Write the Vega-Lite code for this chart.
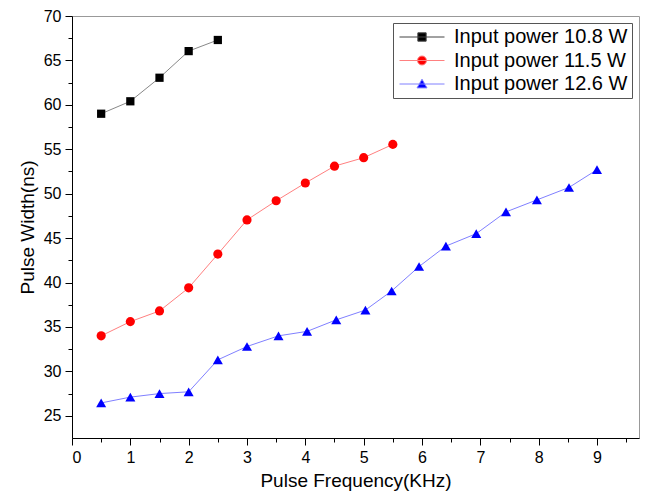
{
  "$schema": "https://vega.github.io/schema/vega-lite/v6.json",
  "width": 567,
  "height": 422,
  "autosize": "none",
  "padding": {"left": 72, "top": 16, "right": 6, "bottom": 56},
  "background": "white",
  "config": {
    "font": "Liberation Sans",
    "view": {"stroke": "#999999", "strokeWidth": 1},
    "axis": {
      "grid": false,
      "domainColor": "black",
      "tickColor": "black",
      "labelColor": "black",
      "titleColor": "black",
      "labelFont": "Liberation Sans",
      "titleFont": "Liberation Sans",
      "labelFontSize": 16,
      "titleFontSize": 19,
      "titleFontWeight": "normal",
      "labelPadding": 4
    },
    "legend": {
      "strokeColor": "#555555",
      "fillColor": "white",
      "padding": 4,
      "labelFont": "Liberation Sans",
      "labelFontSize": 20,
      "labelColor": "black",
      "labelLimit": 400,
      "symbolSize": 100,
      "symbolOffset": 15,
      "labelOffset": 22,
      "rowPadding": 3.5,
      "symbolStrokeWidth": 1,
      "symbolOpacity": 1
    }
  },
  "data": {
    "values": [
      {"series": "Input power 10.8 W", "freq": 0.5, "width": 59.0},
      {"series": "Input power 10.8 W", "freq": 1.0, "width": 60.4},
      {"series": "Input power 10.8 W", "freq": 1.5, "width": 63.05},
      {"series": "Input power 10.8 W", "freq": 2.0, "width": 66.05},
      {"series": "Input power 10.8 W", "freq": 2.5, "width": 67.3},
      {"series": "Input power 11.5 W", "freq": 0.5, "width": 34.0},
      {"series": "Input power 11.5 W", "freq": 1.0, "width": 35.6},
      {"series": "Input power 11.5 W", "freq": 1.5, "width": 36.8},
      {"series": "Input power 11.5 W", "freq": 2.0, "width": 39.4},
      {"series": "Input power 11.5 W", "freq": 2.5, "width": 43.2},
      {"series": "Input power 11.5 W", "freq": 3.0, "width": 47.05},
      {"series": "Input power 11.5 W", "freq": 3.5, "width": 49.2},
      {"series": "Input power 11.5 W", "freq": 4.0, "width": 51.2},
      {"series": "Input power 11.5 W", "freq": 4.5, "width": 53.1},
      {"series": "Input power 11.5 W", "freq": 5.0, "width": 54.05},
      {"series": "Input power 11.5 W", "freq": 5.5, "width": 55.55},
      {"series": "Input power 12.6 W", "freq": 0.5, "width": 26.45},
      {"series": "Input power 12.6 W", "freq": 1.0, "width": 27.1},
      {"series": "Input power 12.6 W", "freq": 1.5, "width": 27.5},
      {"series": "Input power 12.6 W", "freq": 2.0, "width": 27.7},
      {"series": "Input power 12.6 W", "freq": 2.5, "width": 31.3},
      {"series": "Input power 12.6 W", "freq": 3.0, "width": 32.8},
      {"series": "Input power 12.6 W", "freq": 3.54, "width": 34.0},
      {"series": "Input power 12.6 W", "freq": 4.03, "width": 34.5},
      {"series": "Input power 12.6 W", "freq": 4.53, "width": 35.8},
      {"series": "Input power 12.6 W", "freq": 5.03, "width": 36.9},
      {"series": "Input power 12.6 W", "freq": 5.48, "width": 39.05},
      {"series": "Input power 12.6 W", "freq": 5.95, "width": 41.8},
      {"series": "Input power 12.6 W", "freq": 6.41, "width": 44.1},
      {"series": "Input power 12.6 W", "freq": 6.93, "width": 45.5},
      {"series": "Input power 12.6 W", "freq": 7.44, "width": 47.95},
      {"series": "Input power 12.6 W", "freq": 7.97, "width": 49.3},
      {"series": "Input power 12.6 W", "freq": 8.52, "width": 50.7},
      {"series": "Input power 12.6 W", "freq": 9.0, "width": 52.7}
    ]
  },
  "encoding": {
    "x": {
      "field": "freq",
      "type": "quantitative",
      "title": "Pulse Frequency(KHz)",
      "scale": {"domain": [0, 9.72], "nice": false, "zero": false},
      "axis": {
        "values": [0, 0.5, 1, 1.5, 2, 2.5, 3, 3.5, 4, 4.5, 5, 5.5, 6, 6.5, 7, 7.5, 8, 8.5, 9, 9.5],
        "labelExpr": "datum.value % 1 === 0 ? format(datum.value, 'd') : ''",
        "tickSize": {"condition": {"test": "datum.value % 1 !== 0", "value": 4}, "value": 7},
        "titlePadding": 6
      }
    },
    "y": {
      "field": "width",
      "type": "quantitative",
      "title": "Pulse Width(ns)",
      "scale": {"domain": [22.5, 70], "nice": false, "zero": false},
      "axis": {
        "values": [25, 27.5, 30, 32.5, 35, 37.5, 40, 42.5, 45, 47.5, 50, 52.5, 55, 57.5, 60, 62.5, 65, 67.5, 70],
        "labelExpr": "datum.value % 5 === 0 ? format(datum.value, 'd') : ''",
        "tickSize": {"condition": {"test": "datum.value % 5 !== 0", "value": 4}, "value": 7},
        "titlePadding": 6
      }
    }
  },
  "layer": [
    {
      "mark": {"type": "line", "strokeWidth": 1},
      "encoding": {
        "stroke": {
          "field": "series",
          "type": "nominal",
          "scale": {"domain": ["Input power 12.6 W", "Input power 11.5 W", "Input power 10.8 W"], "range": ["#8080ff", "#ff8080", "#888888"]},
          "legend": null
        }
      }
    },
    {
      "mark": {"type": "point", "filled": true, "opacity": 1},
      "encoding": {
        "color": {
          "field": "series",
          "type": "nominal",
          "scale": {"domain": ["Input power 12.6 W", "Input power 11.5 W", "Input power 10.8 W"], "range": ["#0000ff", "#ff0000", "#000000"]},
          "legend": null
        },
        "shape": {
          "field": "series",
          "type": "nominal",
          "scale": {"domain": ["Input power 12.6 W", "Input power 11.5 W", "Input power 10.8 W"], "range": ["triangle-up", "circle", "square"]},
          "legend": null
        },
        "size": {
          "field": "series",
          "type": "nominal",
          "scale": {"domain": ["Input power 12.6 W", "Input power 11.5 W", "Input power 10.8 W"], "range": [100, 68, 70]},
          "legend": null
        }
      }
    },
    {
      "mark": {"type": "point", "opacity": 0},
      "encoding": {
        "fill": {
          "field": "series",
          "type": "nominal",
          "scale": {"domain": ["Input power 10.8 W", "Input power 11.5 W", "Input power 12.6 W"], "range": ["#000000", "#ff0000", "#0000ff"]},
          "legend": {"title": null, "orient": "top-right", "offset": 7}
        },
        "stroke": {
          "field": "series",
          "type": "nominal",
          "scale": {"domain": ["Input power 10.8 W", "Input power 11.5 W", "Input power 12.6 W"], "range": ["#444444", "#ff8080", "#8080ff"]},
          "legend": {"title": null, "orient": "top-right", "offset": 7}
        },
        "shape": {
          "field": "series",
          "type": "nominal",
          "scale": {"domain": ["Input power 10.8 W", "Input power 11.5 W", "Input power 12.6 W"], "range": ["M-4.5,0H4.5M-0.83,-0.83H0.83V0.83H-0.83Z", "M-4.5,0H4.5M0.9,0A0.9,0.9,0,1,1,-0.9,0A0.9,0.9,0,1,1,0.9,0Z", "M-4.5,0H4.5M0,-0.95L1,0.78H-1Z"]},
          "legend": {"title": null, "orient": "top-right", "offset": 7}
        }
      }
    }
  ],
  "resolve": {"scale": {"shape": "independent", "stroke": "independent", "size": "independent", "fill": "independent", "color": "independent"}}
}
